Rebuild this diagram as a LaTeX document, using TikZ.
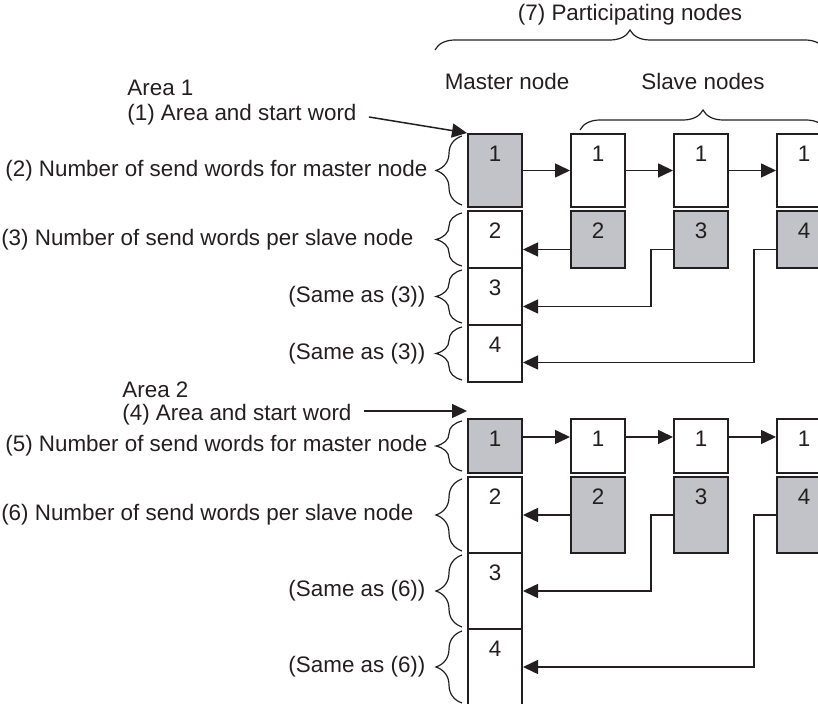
\documentclass[tikz,border=0pt]{standalone}
\usepackage{fontspec}
\setmainfont{Liberation Sans}
\usetikzlibrary{arrows.meta,positioning,decorations.pathreplacing}
\definecolor{Ink}{HTML}{231F20}
\definecolor{Shade}{HTML}{C1C3C8}

\begin{document}
\begin{tikzpicture}[x=0.5pt,y=-0.5pt,
 node distance=1pt and 23.5pt,
 font=\fontsize{11.2}{13}\selectfont,
 word/.style={draw=Ink,line width=1pt,fill=white,minimum width=27pt,inner sep=0pt},
 sent/.style={word,fill=Shade},
 num/.style={anchor=center,yshift=-10.5pt,inner sep=0pt,text=Ink},
 arr/.style={-{Triangle[length=7.5pt,width=7pt]},line width=0.75pt,Ink},
 brc/.style={decorate,decoration={brace,amplitude=#1},line width=0.6pt,Ink},
 brc/.default=13pt,
 txt/.style={text=Ink,inner sep=0pt}]
 \useasboundingbox (0,0) rectangle (818,704);
 % top labels
 \draw[brc=10pt] (435,50) -- node[midway,yshift=17.5pt,txt] (part) {(7) Participating nodes} (825,50);
 \node[txt] (mst) at (507,82) {Master node};
 \draw[brc=10pt] (580,130) -- node[midway,yshift=24pt,txt] (slv) {Slave nodes} (826,130);
 % area 1
 \node[txt,anchor=west] (a1h) at (127,88) {Area 1};
 \node[txt,anchor=west] (a1t) at (127,115) {(1) Area and start word};
 \node[sent,minimum height=36.5pt,label={[num]north:1}] (a1m1) at (495,170.5) {};
 \node[word,minimum height=36.5pt,right=of a1m1,label={[num]north:1}] (a1s1) {};
 \node[word,minimum height=36.5pt,right=of a1s1,label={[num]north:1}] (a1s2) {};
 \node[word,minimum height=36.5pt,right=of a1s2,label={[num]north:1}] (a1s3) {};
 \node[word,minimum height=28.5pt,below=of a1m1,label={[num]north:2}] (a1m2) {};
 \node[sent,minimum height=28.5pt,below=of a1s1,label={[num]north:2}] (a1r1) {};
 \node[sent,minimum height=28.5pt,below=of a1s2,label={[num]north:3}] (a1r2) {};
 \node[sent,minimum height=28.5pt,below=of a1s3,label={[num]north:4}] (a1r3) {};
 \node[word,minimum height=28.5pt,below=-1pt of a1m2,label={[num]north:3}] (a1m3) {};
 \node[word,minimum height=28.5pt,below=-1pt of a1m3,label={[num]north:4}] (a1m4) {};
 \draw[arr] ([xshift=6pt,yshift=-1pt]a1t.east) -- (a1m1.north west);
 \draw[arr] (a1m1) -- (a1s1); \draw[arr] (a1s1) -- (a1s2); \draw[arr] (a1s2) -- (a1s3);
 \draw[arr] ([yshift=-5pt]a1r1.west) -- ([yshift=-5pt]a1m2.east);
 \draw[arr] ([yshift=-5pt]a1r2.west) -- ++(-22,0) |- ([yshift=-5pt]a1m3.east);
 \draw[arr] ([yshift=-5pt]a1r3.west) -- ++(-22,0) |- ([yshift=-4.5pt]a1m4.east);
 \draw[brc] ([xshift=-2.5pt,yshift=1.5pt]a1m1.south west) -- node[midway,left=17pt,txt] (l2) {(2) Number of send words for master node} ([xshift=-2.5pt,yshift=-1.5pt]a1m1.north west);
 \draw[brc] ([xshift=-2.5pt,yshift=1.5pt]a1m2.south west) -- node[midway,left=24pt,txt] (l3) {(3) Number of send words per slave node} ([xshift=-2.5pt,yshift=-1.5pt]a1m2.north west);
 \draw[brc] ([xshift=-2.5pt,yshift=1.5pt]a1m3.south west) -- node[midway,left=18pt,txt] (l3a) {(Same as (3))} ([xshift=-2.5pt,yshift=-1.5pt]a1m3.north west);
 \draw[brc] ([xshift=-2.5pt,yshift=1.5pt]a1m4.south west) -- node[midway,left=18pt,txt] (l3b) {(Same as (3))} ([xshift=-2.5pt,yshift=-1.5pt]a1m4.north west);
 % area 2
 \node[txt,anchor=west] (a2h) at (122,390) {Area 2};
 \node[txt,anchor=west] (a2t) at (122,415) {(4) Area and start word};
 \node[sent,minimum height=27pt,label={[num]north:1}] (a2m1) at (495,446) {};
 \node[word,minimum height=27pt,right=of a2m1,label={[num]north:1}] (a2s1) {};
 \node[word,minimum height=27pt,right=of a2s1,label={[num]north:1}] (a2s2) {};
 \node[word,minimum height=27pt,right=of a2s2,label={[num]north:1}] (a2s3) {};
 \node[word,minimum height=38pt,below=of a2m1,label={[num]north:2}] (a2m2) {};
 \node[sent,minimum height=38pt,below=of a2s1,label={[num]north:2}] (a2r1) {};
 \node[sent,minimum height=38pt,below=of a2s2,label={[num]north:3}] (a2r2) {};
 \node[sent,minimum height=38pt,below=of a2s3,label={[num]north:4}] (a2r3) {};
 \node[word,minimum height=38pt,below=-1pt of a2m2,label={[num]north:3}] (a2m3) {};
 \node[word,minimum height=38pt,below=-1pt of a2m3,label={[num]north:4}] (a2m4) {};
 \draw[arr] ([xshift=6pt,yshift=2pt]a2t.east) -- ([yshift=3.5pt]a2m1.north west);
 \draw[arr] ([yshift=4.5pt]a2m1.east) -- ([yshift=4.5pt]a2s1.west);
 \draw[arr] ([yshift=4.5pt]a2s1.east) -- ([yshift=4.5pt]a2s2.west);
 \draw[arr] ([yshift=4.5pt]a2s2.east) -- ([yshift=4.5pt]a2s3.west);
 \draw[arr] (a2r1) -- (a2m2);
 \draw[arr] (a2r2.west) -- ++(-22,0) |- (a2m3.east);
 \draw[arr] (a2r3.west) -- ++(-22,0) |- (a2m4.east);
 \draw[brc] ([xshift=-2.5pt,yshift=1.5pt]a2m1.south west) -- node[midway,left=17pt,txt] (l5) {(5) Number of send words for master node} ([xshift=-2.5pt,yshift=-1.5pt]a2m1.north west);
 \draw[brc] ([xshift=-2.5pt,yshift=1.5pt]a2m2.south west) -- node[midway,left=24pt,txt] (l6) {(6) Number of send words per slave node} ([xshift=-2.5pt,yshift=-1.5pt]a2m2.north west);
 \draw[brc] ([xshift=-2.5pt,yshift=1.5pt]a2m3.south west) -- node[midway,left=18pt,txt] (l6a) {(Same as (6))} ([xshift=-2.5pt,yshift=-1.5pt]a2m3.north west);
 \draw[brc] ([xshift=-2.5pt,yshift=1.5pt]a2m4.south west) -- node[midway,left=18pt,txt] (l6b) {(Same as (6))} ([xshift=-2.5pt,yshift=-1.5pt]a2m4.north west);
\end{tikzpicture}
\end{document}
